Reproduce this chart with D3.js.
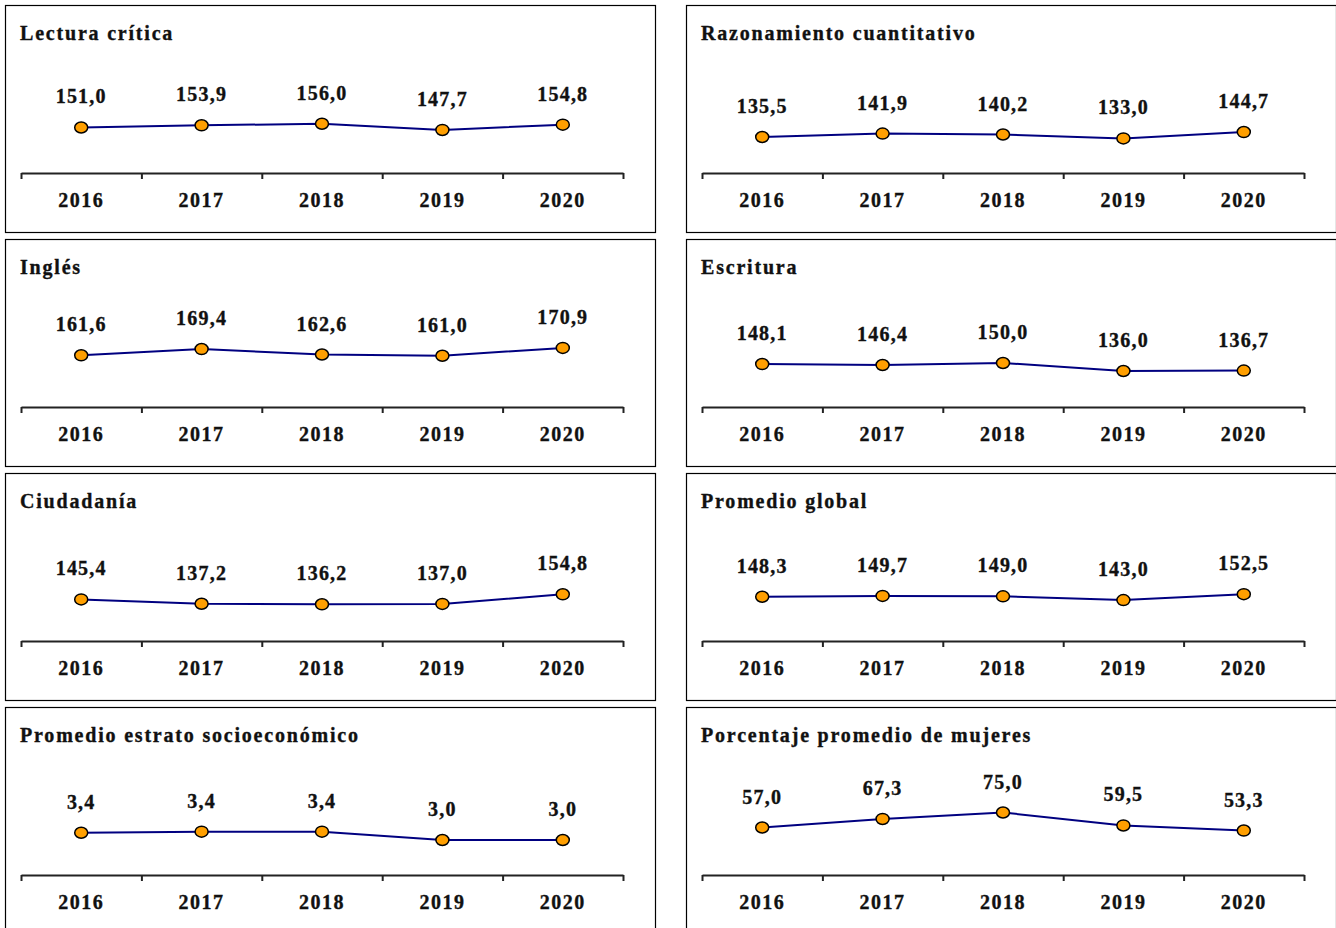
<!DOCTYPE html>
<html>
<head>
<meta charset="utf-8">
<script src="https://cdn.jsdelivr.net/npm/d3@7"></script>
<style>
  body { margin: 0; background: #fff; }
  svg text { font-family: "Liberation Serif", "Times New Roman", serif; font-weight: bold; fill: #111; stroke: #111; stroke-width: 0.35px; }
  .title { font-size: 20px; letter-spacing: 1.8px; }
  .val { font-size: 20px; letter-spacing: 1.2px; }
  .year { font-size: 20px; letter-spacing: 1.5px; }
</style>
</head>
<body>
<div id="chart"></div>
<script>
const w = 1336;
const h = 928;

// panel box
const panelW = 650;
const panelH = 227;
const colX = [5, 686];
const rowY = [5, 239, 473, 707];

// inside panel
const axisY = 168;
const plotTop = 68;
const xLeft = 16;
const xRight = 618;

// data
const years = ["2016", "2017", "2018", "2019", "2020"];
const titles = [
  "Lectura crítica", "Razonamiento cuantitativo",
  "Inglés", "Escritura",
  "Ciudadanía", "Promedio global",
  "Promedio estrato socioeconómico", "Porcentaje promedio de mujeres"
];
const lectura = [151.0, 153.9, 156.0, 147.7, 154.8];
const razonamiento = [135.5, 141.9, 140.2, 133.0, 144.7];
const ingles = [161.6, 169.4, 162.6, 161.0, 170.9];
const escritura = [148.1, 146.4, 150.0, 136.0, 136.7];
const ciudadania = [145.4, 137.2, 136.2, 137.0, 154.8];
const global = [148.3, 149.7, 149.0, 143.0, 152.5];
const estrato = [3.38, 3.44, 3.44, 3.0, 3.0];
const mujeres = [57.0, 67.3, 75.0, 59.5, 53.3];
const series = [lectura, razonamiento, ingles, escritura, ciudadania, global, estrato, mujeres];
// y domain used by each small chart
const yDomains = [
  [90, 224], [69, 254],
  [97, 222], [73, 248],
  [68, 254], [78, 237],
  [1.16, 6.42], [0, 120]
];

const fmt = v => d3.format(".1f")(v).replace(".", ",");

const svg = d3.select("#chart")
  .append("svg")
  .attr("width", w)
  .attr("height", h);

const xBand = d3.scaleBand().domain(years).range([xLeft, xRight]);
const xEdge = d3.scaleLinear().domain([0, years.length]).range([xLeft, xRight]);

series.forEach((vals, k) => {
  const col = k % 2;
  const row = Math.floor(k / 2);
  const g = svg.append("g")
    .attr("transform", `translate(${colX[col]},${rowY[row]})`);

  g.append("rect")
    .attr("x", 0.5).attr("y", 0.5)
    .attr("width", panelW).attr("height", panelH)
    .attr("fill", "#fff")
    .attr("stroke", "#000")
    .attr("stroke-width", 1.2);

  g.append("text")
    .attr("class", "title")
    .attr("x", 15).attr("y", 35)
    .text(titles[k]);

  const y = d3.scaleLinear().domain(yDomains[k]).range([axisY, plotTop]);

  // axis with ticks at category edges
  const edgeAxis = d3.axisBottom(xEdge)
    .tickValues(d3.range(years.length + 1))
    .tickFormat("")
    .tickSize(6)
    .tickSizeOuter(0);
  const ax = g.append("g")
    .attr("transform", `translate(0,${axisY})`)
    .call(edgeAxis);
  ax.select(".domain").attr("stroke", "#222").attr("stroke-width", 2);
  ax.selectAll(".tick line").attr("stroke", "#222").attr("stroke-width", 2);

  // year labels
  const labAxis = d3.axisBottom(xBand).tickSize(0).tickPadding(0);
  const lab = g.append("g")
    .attr("transform", `translate(0,${axisY + 20})`)
    .call(labAxis);
  lab.select(".domain").remove();
  lab.selectAll("text")
    .attr("class", "year")
    .attr("dy", "0.71em")
    .attr("font-family", null)
    .attr("font-size", null)
    .attr("fill", "#111");

  const cx = d => xBand(d) + xBand.bandwidth() / 2;

  const line = d3.line()
    .x((d, i) => cx(years[i]))
    .y(d => y(d));

  g.append("path")
    .datum(vals)
    .attr("d", line)
    .attr("fill", "none")
    .attr("stroke", "#000080")
    .attr("stroke-width", 2);

  g.selectAll(".dot")
    .data(vals)
    .enter()
    .append("ellipse")
    .attr("class", "dot")
    .attr("cx", (d, i) => cx(years[i]))
    .attr("cy", d => y(d))
    .attr("rx", 6.5)
    .attr("ry", 5.5)
    .attr("fill", "#ff9f00")
    .attr("stroke", "#000")
    .attr("stroke-width", 1.5);

  g.selectAll(".val")
    .data(vals)
    .enter()
    .append("text")
    .attr("class", "val")
    .attr("x", (d, i) => cx(years[i]))
    .attr("y", d => y(d) - 24)
    .attr("text-anchor", "middle")
    .text(d => fmt(d));
});
</script>
</body>
</html>
